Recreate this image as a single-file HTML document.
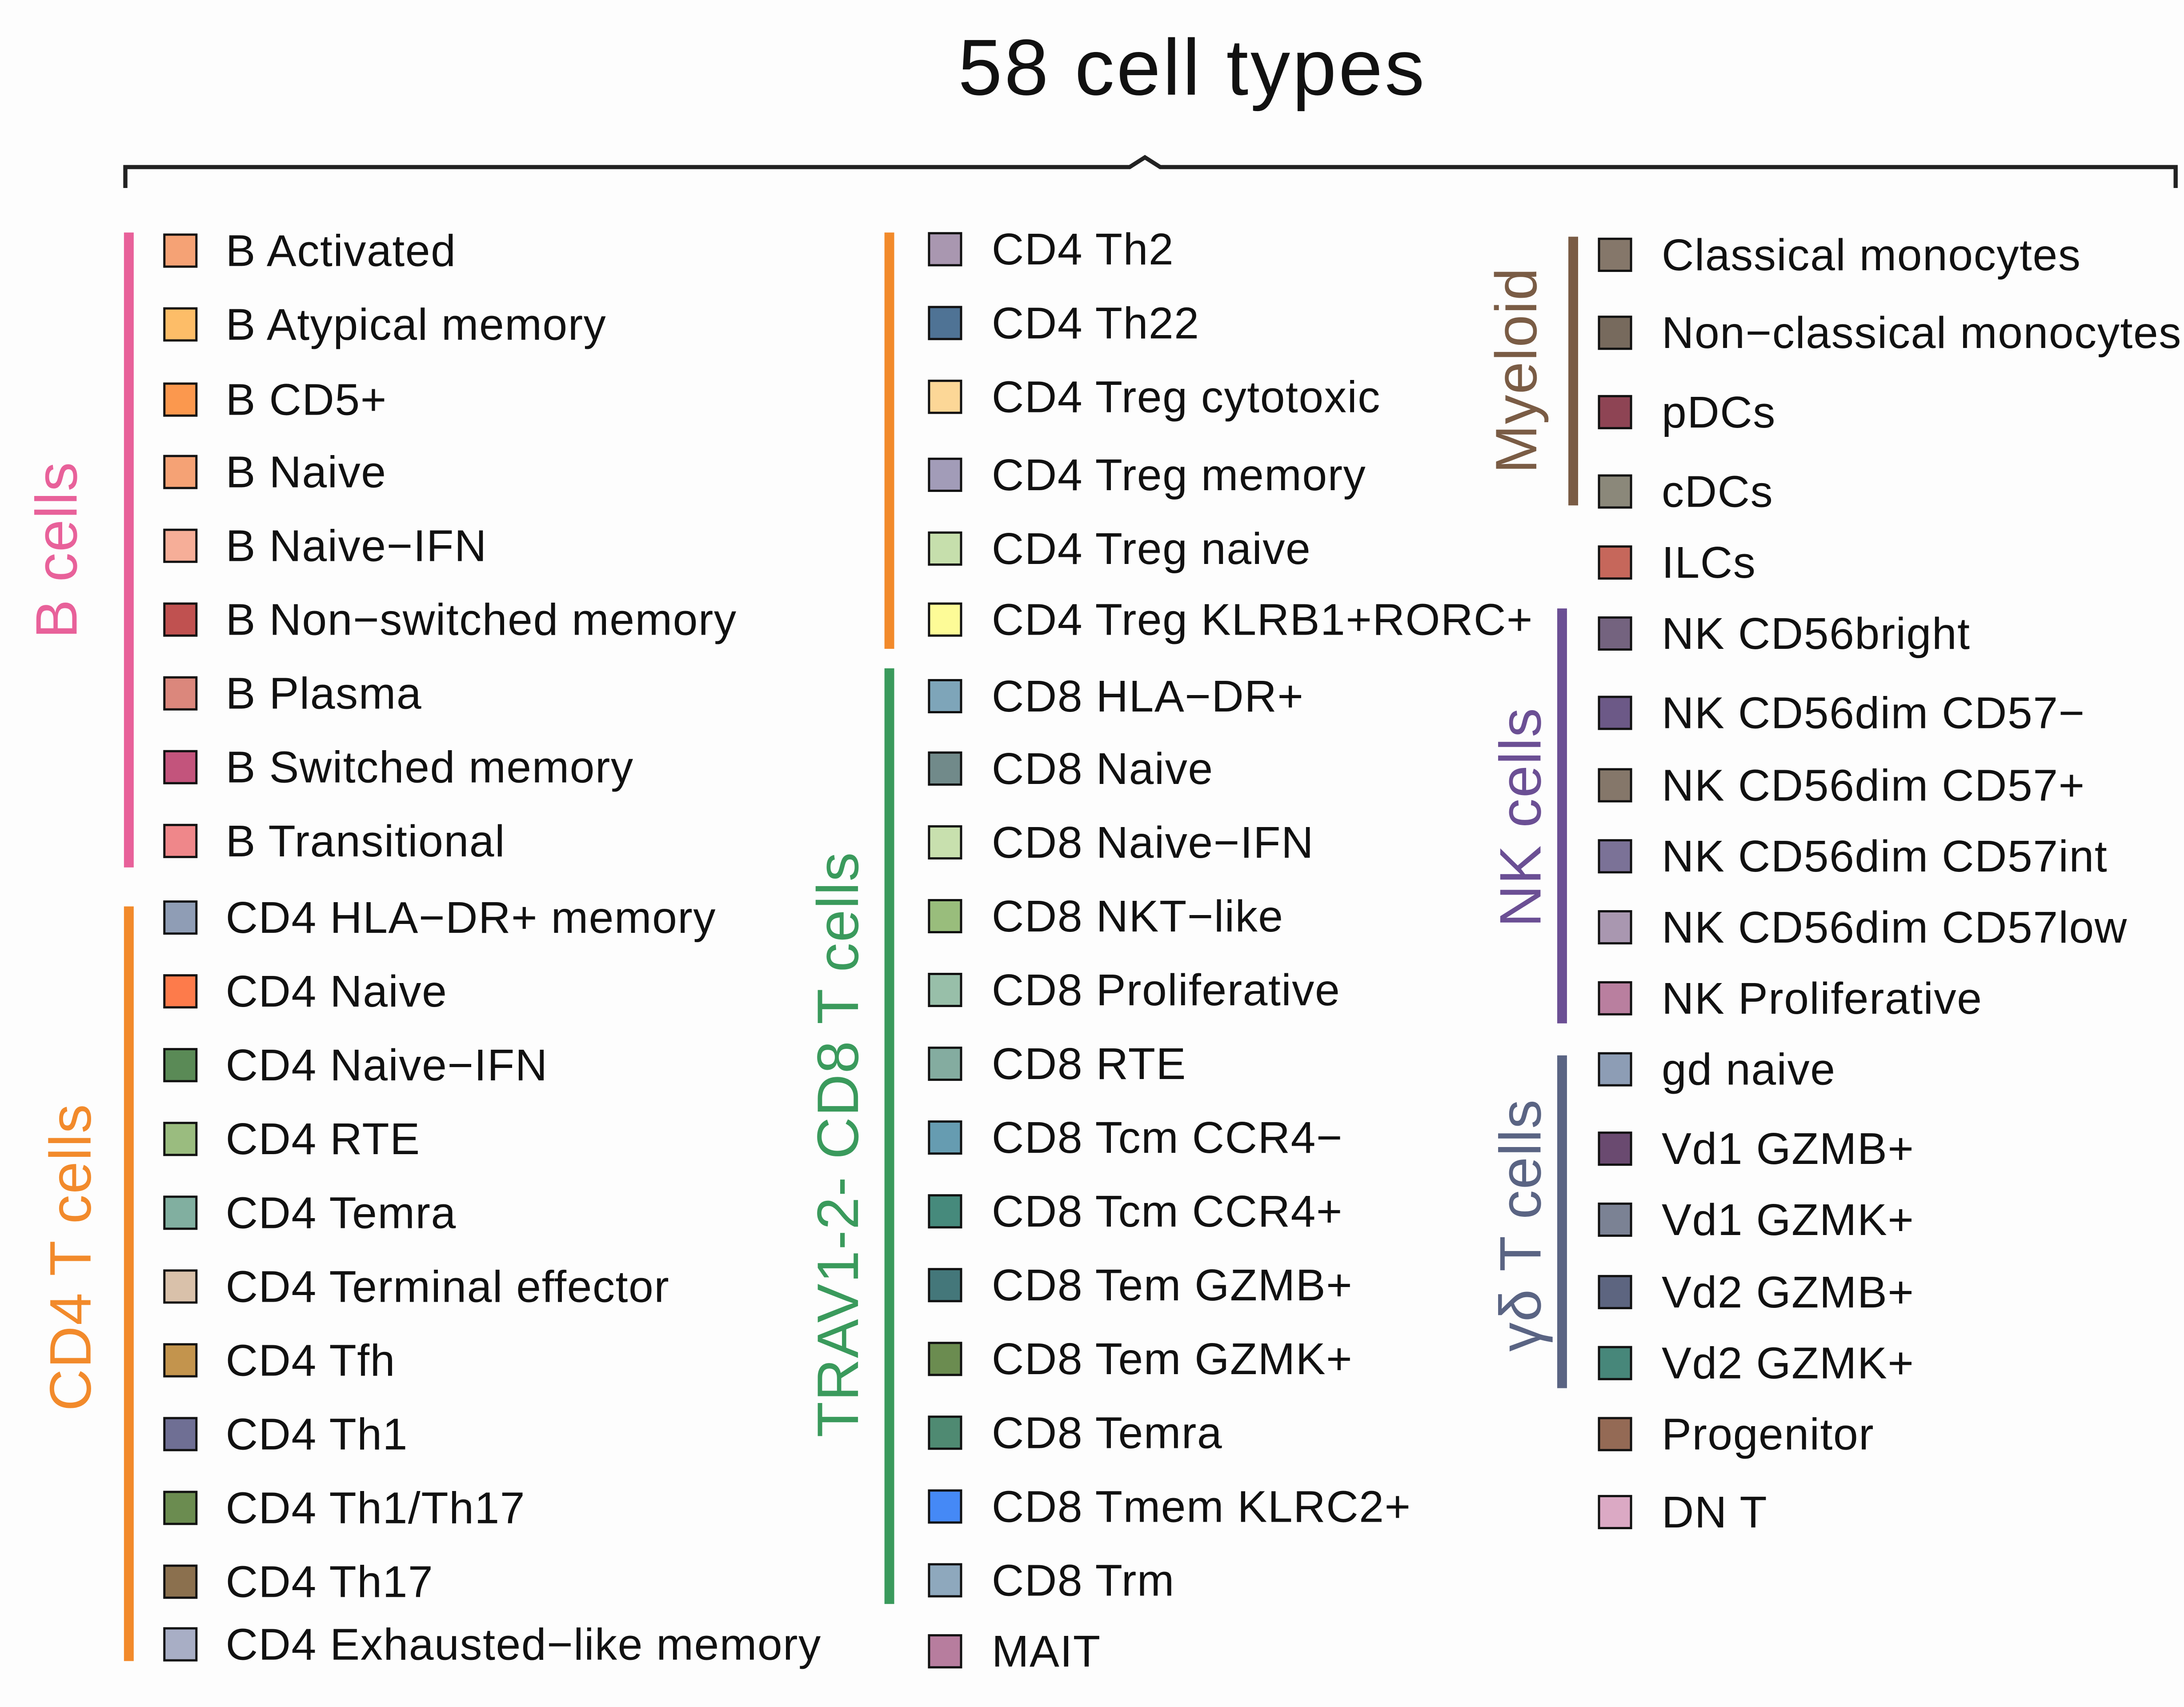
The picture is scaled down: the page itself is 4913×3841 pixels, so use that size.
<!DOCTYPE html>
<html><head><meta charset="utf-8"><style>
html,body{margin:0;padding:0;background:#fdfdfd;}
svg{display:block;}
text{font-family:"Liberation Sans",sans-serif;fill:#111;}
</style></head><body>
<svg width="4913" height="3841" viewBox="0 0 1568 1226" preserveAspectRatio="none" xmlns="http://www.w3.org/2000/svg">
<rect width="1568" height="1226" fill="#fdfdfd"/>
<text x="856" y="68" font-size="57" text-anchor="middle" letter-spacing="1.5">58 cell types</text>
<path d="M90,135 V120 H811 L822,113 L833,120 H1562 V135" fill="none" stroke="#222" stroke-width="3"/>
<g id="g"></g>
</svg>
<script>
const col1Names=["B Activated","B Atypical memory","B CD5+","B Naive","B Naive−IFN","B Non−switched memory","B Plasma","B Switched memory","B Transitional","CD4 HLA−DR+ memory","CD4 Naive","CD4 Naive−IFN","CD4 RTE","CD4 Temra","CD4 Terminal effector","CD4 Tfh","CD4 Th1","CD4 Th1/Th17","CD4 Th17","CD4 Exhausted−like memory"];
const col1Colors=["#f5a275","#fdbd68","#fb984e","#f5a275","#f6ae98","#c05150","#db877c","#c3547c","#ef878a","#8f9db5","#fd7b4b","#5a8a56","#9abc7f","#81afa0","#d9c1aa","#c3944d","#6f6f94","#6b8c50","#8b704e","#a8aec5"];
const col1Y=[180,233,287,339,392,445,498,551,604,659,712,765,818,871,924,977,1030,1083,1136,1181];
const col2Names=["CD4 Th2","CD4 Th22","CD4 Treg cytotoxic","CD4 Treg memory","CD4 Treg naive","CD4 Treg KLRB1+RORC+","CD8 HLA−DR+","CD8 Naive","CD8 Naive−IFN","CD8 NKT−like","CD8 Proliferative","CD8 RTE","CD8 Tcm CCR4−","CD8 Tcm CCR4+","CD8 Tem GZMB+","CD8 Tem GZMK+","CD8 Temra","CD8 Tmem KLRC2+","CD8 Trm","MAIT"];
const col2Colors=["#a997b0","#4f7395","#fcd797","#a29cb8","#c6dfac","#fdfb97","#7ea5b9","#718a8a","#c8e0ae","#99bd7c","#98bfa9","#84aca0","#669cb1","#468a7c","#44777a","#6b8c50","#4f8a72","#4589f6","#8ea8bd","#b77d9e"];
const col2Y=[179,232,285,341,394,445,500,552,605,658,711,764,817,870,923,976,1029,1082,1135,1186];
const col3Names=["Classical monocytes","Non−classical monocytes","pDCs","cDCs","ILCs","NK CD56bright","NK CD56dim CD57−","NK CD56dim CD57+","NK CD56dim CD57int","NK CD56dim CD57low","NK Proliferative","gd naive","Vd1 GZMB+","Vd1 GZMK+","Vd2 GZMB+","Vd2 GZMK+","Progenitor","DN T"];
const col3Colors=["#85776a","#776a5d","#8e4454","#8b887a","#c6675b","#74637f","#6c5987","#85776a","#7b7297","#a997b0","#b97f9f","#8d9db5","#6a4a70","#7b8294","#5d6580","#47877a","#946a55","#dba9c4"];
const col3Y=[183,239,296,353,404,455,512,564,615,666,717,768,825,876,928,979,1030,1086];
const groupLabels=["B cells","CD4 T cells","","TRAV1-2- CD8 T cells","Myeloid","NK cells","γδ T cells"];
const groupColors=["#e8619a","#f28a2b","#f28a2b","#3a9a5c","#7a5c45","#6b4f94","#5a6483"];
const groupBarX=[92,92,638,638,1129,1121,1121];
const groupBarY=[[167,623],[651,1193],[167,466],[480,1152],[170,363],[437,735],[758,997]];
const groupLabelPos=[[40,395],[50,903],[0,0],[601,822],[1088,266],[1091,587],[1091,880]];
const NS="http://www.w3.org/2000/svg";
const g=document.getElementById('g');
function mk(t,a){const e=document.createElementNS(NS,t);for(const k in a)e.setAttribute(k,a[k]);g.appendChild(e);return e;}
const cols=[[col1Names,col1Colors,col1Y,118,162],[col2Names,col2Colors,col2Y,667,712],[col3Names,col3Colors,col3Y,1148,1193]];
cols.forEach(([n,c,y,sx,tx])=>{
  n.forEach((name,i)=>{
    const r=mk('rect',{x:sx,y:y[i]-11.5,width:23,height:23,fill:c[i],stroke:'#111','stroke-width':1.6});
    
    
    const t=mk('text',{x:tx,y:y[i]+11,'font-size':32,'letter-spacing':0.5});
    
    
    t.textContent=name;
  });
});
groupLabels.forEach((lab,i)=>{
  const b=mk('rect',{x:groupBarX[i]-3,y:groupBarY[i][0],width:7,height:groupBarY[i][1]-groupBarY[i][0],fill:groupColors[i]});
  
  
  if(lab){
    const [x,y]=groupLabelPos[i];
    const t=mk('text',{x:0,y:0,'font-size':42,'text-anchor':'middle','letter-spacing':0.5,transform:`translate(${x+15},${y}) rotate(-90)`});
    t.style.fill=groupColors[i];
    
    
    t.textContent=lab;
  }
});
</script>
</body></html>
